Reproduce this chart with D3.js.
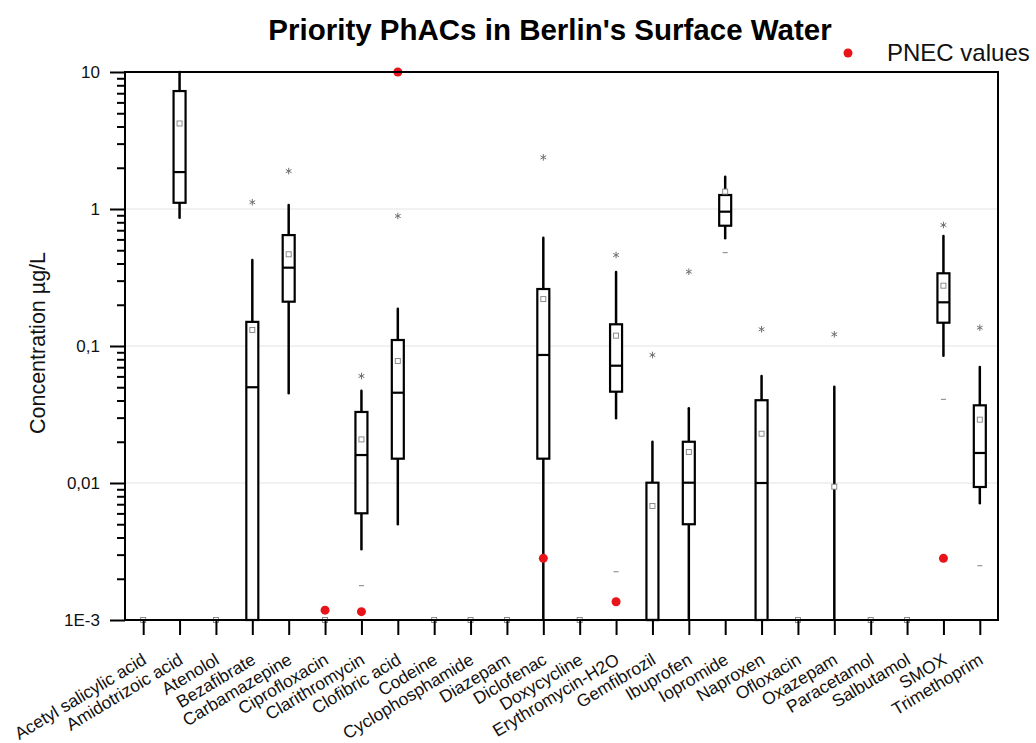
<!DOCTYPE html>
<html>
<head>
<meta charset="utf-8">
<script src="https://cdn.jsdelivr.net/npm/d3@7"></script>
<style>
  html, body { margin: 0; padding: 0; background: #fff; }
  svg { display: block; font-family: "Liberation Sans", Arial, sans-serif; }
</style>
</head>
<body>
<svg id="chart" width="1036" height="743"></svg>
<script>
// ---------- DATA ----------
const categories = ["Acetyl salicylic acid","Amidotrizoic acid","Atenolol","Bezafibrate","Carbamazepine",
  "Ciprofloxacin","Clarithromycin","Clofibric acid","Codeine","Cyclophosphamide","Diazepam","Diclofenac",
  "Doxycycline","Erythromycin-H2O","Gemfibrozil","Ibuprofen","Iopromide","Naproxen","Ofloxacin","Oxazepam",
  "Paracetamol","Salbutamol","SMOX","Trimethoprim"];
const whiskerLow  = [null,0.864,null,0.001,0.0452,null,0.00328,0.005,null,null,null,0.001,null,0.0297,0.001,0.001,0.611,0.001,null,0.001,null,null,0.0849,0.00711];
const q1          = [null,1.11,null,0.001,0.2106,null,0.00601,0.01505,null,null,null,0.01505,null,0.0464,0.001,0.005,0.755,0.001,null,0.001,null,null,0.1479,0.00935];
const median      = [null,1.86,null,0.050,0.373,null,0.016,0.0456,null,null,null,0.086,null,0.0718,0.001,0.01005,0.956,0.01,null,0.001,null,null,0.2084,0.01656];
const q3          = [null,7.26,null,0.150,0.645,null,0.033,0.1106,null,null,null,0.2606,null,0.144,0.01005,0.020,1.265,0.0402,null,0.001,null,null,0.3394,0.0369];
const whiskerHigh = [null,10,null,0.425,1.07,null,0.0472,0.187,null,null,null,0.617,null,0.3467,0.020,0.0351,1.72,0.0604,null,0.0505,null,null,0.635,0.0703];
const meanValues  = [0.001,4.21,0.001,0.131,0.467,0.001,0.0208,0.0777,0.001,0.001,0.001,0.220,0.001,0.119,0.00679,0.01684,1.34,0.0229,0.001,0.0094,0.001,0.001,0.2756,0.029];
const starValues  = [null,null,null,1.12,1.89,null,0.0604,0.889,null,null,null,2.38,null,0.4615,0.086,0.3485,null,0.1324,null,0.1217,null,null,0.764,0.136];
const dashValues  = [null,null,null,null,null,null,0.00178,null,null,null,null,null,null,0.00225,null,null,0.48,null,null,null,null,null,0.0408,0.00249];
const pnecValues  = [null,null,null,null,null,0.00118,0.00115,10,null,null,null,0.00282,null,0.00136,null,null,null,null,null,null,null,null,0.00282,null];
const yTickValues = [0.001,0.01,0.1,1,10];
const yTickLabels = ["1E-3","0,01","0,1","1","10"];
const gridValues  = [0.01,0.1,1];

// ---------- LAYOUT ----------
const svg = d3.select("#chart");
const L = 125, R = 998, T = 72, B = 620;
const x = d3.scaleLinear().domain([0.5, 24.5]).range([L, R]);
const y = d3.scaleLog().domain([0.001, 10]).range([B, T]);
const boxW = 12;
const idx = d3.range(categories.length);

// grid
svg.append("g").selectAll("line").data(gridValues).join("line")
  .attr("x1", L).attr("x2", R).attr("y1", d => y(d)).attr("y2", d => y(d))
  .attr("stroke", "#e3e3e3").attr("stroke-width", 1);

// title
svg.append("text").attr("x", 550).attr("y", 40).attr("text-anchor", "middle")
  .attr("font-size", 29.5).attr("font-weight", "bold").attr("fill", "#000")
  .text("Priority PhACs in Berlin's Surface Water");

// legend
svg.append("circle").attr("cx", 848).attr("cy", 53).attr("r", 4.5).attr("fill", "#e8141a");
svg.append("text").attr("x", 887).attr("y", 61).attr("font-size", 24).attr("fill", "#111").text("PNEC values");

// y label
svg.append("text").attr("transform", "translate(45,343) rotate(-90)").attr("text-anchor", "middle")
  .attr("font-size", 21.5).attr("fill", "#111").text("Concentration µg/L");

// marks
const g = svg.append("g");
// whiskers
g.selectAll("line.wh").data(idx.filter(i => whiskerLow[i] !== null)).join("line")
  .attr("class", "wh")
  .attr("x1", i => x(i + 1)).attr("x2", i => x(i + 1))
  .attr("y1", i => y(whiskerLow[i])).attr("y2", i => y(whiskerHigh[i]))
  .attr("stroke", "#000").attr("stroke-width", 2.5).attr("stroke-linecap", "round");
// boxes
g.selectAll("rect.box").data(idx.filter(i => q1[i] !== null && q3[i] > q1[i])).join("rect")
  .attr("class", "box")
  .attr("x", i => x(i + 1) - boxW / 2).attr("width", boxW)
  .attr("y", i => y(q3[i])).attr("height", i => y(q1[i]) - y(q3[i]))
  .attr("fill", "#fff").attr("stroke", "#000").attr("stroke-width", 2.2);
// medians
g.selectAll("line.med").data(idx.filter(i => median[i] !== null && q3[i] > q1[i])).join("line")
  .attr("class", "med")
  .attr("x1", i => x(i + 1) - boxW / 2).attr("x2", i => x(i + 1) + boxW / 2)
  .attr("y1", i => y(median[i])).attr("y2", i => y(median[i]))
  .attr("stroke", "#000").attr("stroke-width", 2.2);
// means
g.selectAll("rect.mean").data(idx.filter(i => meanValues[i] !== null)).join("rect")
  .attr("class", "mean")
  .attr("x", i => x(i + 1) - 2.5).attr("y", i => y(meanValues[i]) - 2.5)
  .attr("width", 5).attr("height", 5)
  .attr("fill", "#fff").attr("stroke", "#808080").attr("stroke-width", 0.9);
// stars
const star = d3.symbol().type(d3.symbolAsterisk).size(30);
g.selectAll("path.star").data(idx.filter(i => starValues[i] !== null)).join("path")
  .attr("class", "star")
  .attr("transform", i => `translate(${x(i + 1)},${y(starValues[i])})`)
  .attr("d", star).attr("fill", "none").attr("stroke", "#707070").attr("stroke-width", 1);
// dashes
g.selectAll("line.dash").data(idx.filter(i => dashValues[i] !== null)).join("line")
  .attr("class", "dash")
  .attr("x1", i => x(i + 1) - 2.5).attr("x2", i => x(i + 1) + 2.5)
  .attr("y1", i => y(dashValues[i])).attr("y2", i => y(dashValues[i]))
  .attr("stroke", "#808080").attr("stroke-width", 1);

// frame
svg.append("rect").attr("x", L).attr("y", T).attr("width", R - L).attr("height", B - T)
  .attr("fill", "none").attr("stroke", "#000").attr("stroke-width", 2);

// PNEC dots
g.selectAll("circle.pnec").data(idx.filter(i => pnecValues[i] !== null)).join("circle")
  .attr("class", "pnec")
  .attr("cx", i => x(i + 1)).attr("cy", i => y(pnecValues[i])).attr("r", 4.5)
  .attr("fill", "#e8141a");

// y axis major
const yAxis = svg.append("g").attr("transform", `translate(${L},0)`)
  .call(d3.axisLeft(y).tickValues(yTickValues).tickSize(15).tickSizeOuter(0)
    .tickFormat((d, i) => yTickLabels[i]));
yAxis.select(".domain").remove();
yAxis.selectAll(".tick line").attr("stroke", "#000").attr("stroke-width", 2);
yAxis.selectAll(".tick text").attr("font-size", 17).attr("fill", "#111")
  .attr("font-family", "Liberation Sans, Arial, sans-serif").attr("x", -25);
// y axis minor
const minor = [];
[0.001, 0.01, 0.1, 1].forEach(dec => { for (let k = 2; k <= 9; k++) minor.push(dec * k); });
const yMinor = svg.append("g").attr("transform", `translate(${L},0)`)
  .call(d3.axisLeft(y).tickValues(minor).tickSize(8).tickFormat(""));
yMinor.select(".domain").remove();
yMinor.selectAll(".tick line").attr("stroke", "#000").attr("stroke-width", 2);

// x axis
const xAxis = svg.append("g").attr("transform", `translate(0,${B})`)
  .call(d3.axisBottom(x).tickValues(d3.range(1, 25)).tickSize(15).tickSizeOuter(0)
    .tickFormat(d => categories[d - 1]));
xAxis.select(".domain").remove();
xAxis.selectAll(".tick line").attr("stroke", "#000").attr("stroke-width", 2);
xAxis.selectAll(".tick text")
  .attr("font-size", 17.5).attr("fill", "#111").attr("font-family", "Liberation Sans, Arial, sans-serif")
  .attr("text-anchor", "end").attr("dy", null).attr("y", 0).attr("x", 0)
  .attr("transform", "translate(4,43) rotate(-31)");
</script>
</body>
</html>
